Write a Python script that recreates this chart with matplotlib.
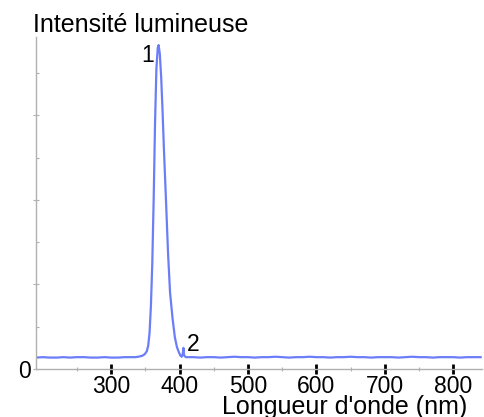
import matplotlib
matplotlib.use("Agg")
import matplotlib.pyplot as plt
from matplotlib.ticker import FixedLocator

plt.rcParams['font.family'] = ['Liberation Sans', 'DejaVu Sans']

# Spectrum (wavelength in nm, intensity in arbitrary units)
wavelength = [190, 200, 210, 220, 230, 240, 250, 260, 270, 280, 290, 300, 310, 320, 330, 335, 339.5,
              345, 349, 352, 354, 356, 358, 360, 362, 364, 366, 368, 369.2,
              371, 373, 375, 377, 380, 383, 386, 389.6, 393, 396, 398.5, 401, 403, 404.5, 405.5, 406.5,
              409, 420, 430, 440, 450, 460, 470, 480, 490, 500, 510, 520, 530, 540, 550, 560, 570, 580,
              590, 600, 610, 620, 630, 640, 650, 660, 670, 680, 690, 700, 710, 720, 730, 740, 750, 760,
              770, 780, 790, 800, 810, 820, 830, 840]
intensity = [0.27, 0.28, 0.27, 0.27, 0.28, 0.27, 0.28, 0.28, 0.27, 0.27, 0.28, 0.27, 0.27, 0.28, 0.28, 0.28, 0.29,
             0.31, 0.35, 0.42, 0.55, 0.85, 1.5, 2.5, 4.0, 5.8, 7.1, 7.6, 7.66,
             7.45, 6.9, 6.1, 5.2, 4.0, 2.75, 1.8, 1.2, 0.75, 0.52, 0.41, 0.32, 0.29, 0.36, 0.50, 0.32,
             0.28, 0.28, 0.27, 0.28, 0.28, 0.27, 0.28, 0.29, 0.28, 0.28, 0.27, 0.28, 0.28, 0.29, 0.28, 0.27, 0.28, 0.28,
             0.29, 0.28, 0.28, 0.27, 0.28, 0.28, 0.29, 0.28, 0.28, 0.27, 0.28, 0.28, 0.28, 0.27, 0.28, 0.29, 0.28, 0.28,
             0.27, 0.28, 0.28, 0.28, 0.27, 0.28, 0.28, 0.28]

x_ticks = [300, 400, 500, 600, 700, 800]
x_minor = [250, 350, 450, 550, 650, 750]
peak_labels = ["1", "2"]
peak_pos = [(353.4, 7.42), (420.3, 0.59)]

W, H = 485, 417
fig = plt.figure(figsize=(W / 100, H / 100), dpi=100)
ax = fig.add_axes([36 / W, 48 / H, (482 - 36) / W, 332 / H])

ax.plot(wavelength, intensity, color='#6c7df8', lw=1.6, solid_joinstyle='round')

ax.set_xlim(190, 842)
ax.set_ylim(0, 7.85)

for s in ['top', 'right']:
    ax.spines[s].set_visible(False)
for s in ['left', 'bottom']:
    ax.spines[s].set_color('#b0b0b0')
    ax.spines[s].set_linewidth(1.0)

ax.xaxis.set_major_locator(FixedLocator(x_ticks))
ax.xaxis.set_minor_locator(FixedLocator(x_minor))
ax.set_xticklabels([str(t) for t in x_ticks])
ax.tick_params(axis='x', which='major', direction='inout', length=7, width=2.0,
               color='black', labelsize=16.5, pad=1)
ax.tick_params(axis='x', which='minor', direction='inout', length=3, width=0.8, color='#b0b0b0')

ax.yaxis.set_major_locator(FixedLocator([0, 2, 4, 6]))
ax.yaxis.set_minor_locator(FixedLocator([1, 3, 5, 7]))
ax.set_yticklabels(['0', '', '', ''])
ax.tick_params(axis='y', which='major', direction='inout', length=4, width=0.8,
               color='#b0b0b0', labelsize=16.5, pad=2)
ax.tick_params(axis='y', which='minor', direction='in', length=2, width=0.8, color='#b0b0b0')

for lab, (px, py) in zip(peak_labels, peak_pos):
    ax.text(px, py, lab, fontsize=16.5, ha='center', va='center', color='black')

fig.text(33 / W, 1 - 31.5 / H, "Intensité lumineuse", fontsize=18, ha='left', va='baseline')
fig.text(467 / W, 3 / H, "Longueur d'onde (nm)", fontsize=18, ha='right', va='baseline')

fig.savefig("out.png", dpi=100)
